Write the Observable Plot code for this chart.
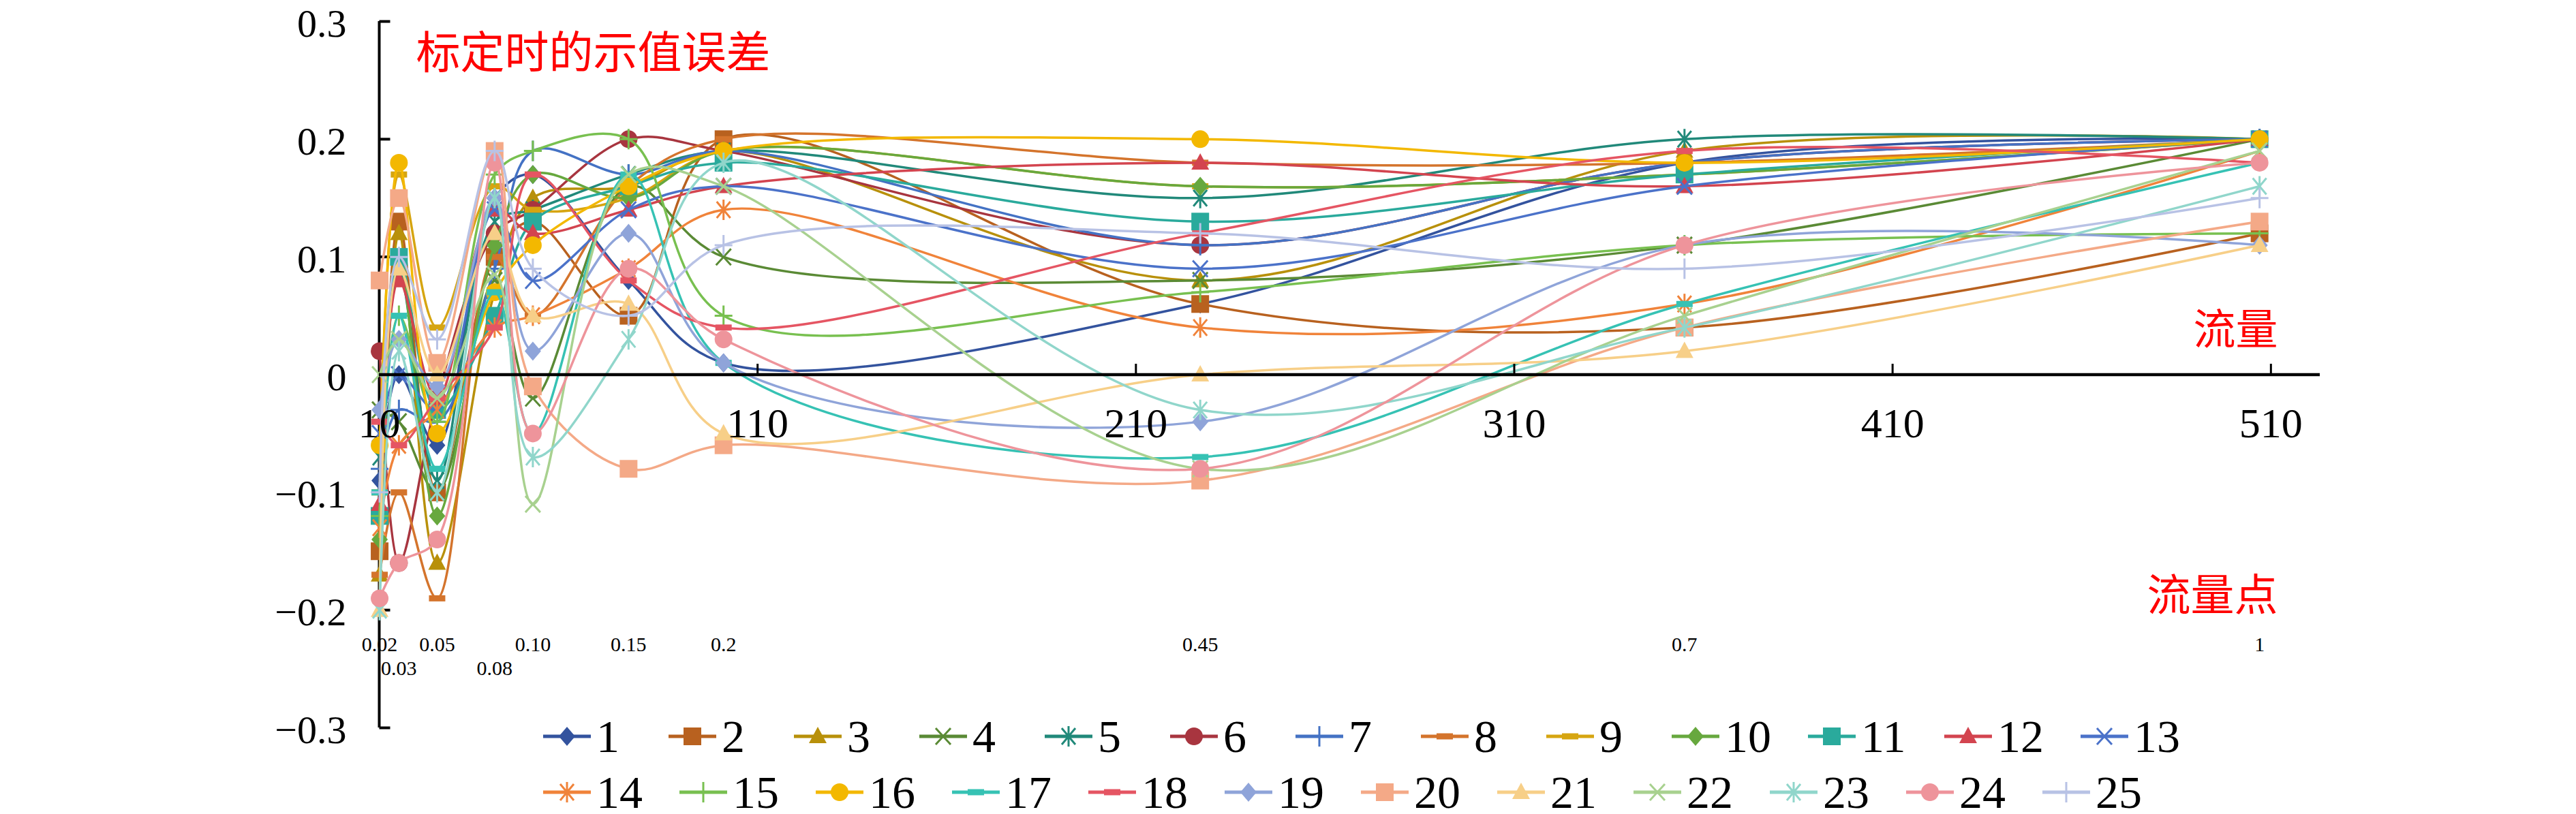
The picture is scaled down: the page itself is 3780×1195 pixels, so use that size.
<!DOCTYPE html>
<html>
<head>
<meta charset="utf-8">
<script src="https://cdn.jsdelivr.net/npm/d3@7"></script>
<script src="https://cdn.jsdelivr.net/npm/@observablehq/plot@0.6"></script>
<style>
  html, body { margin: 0; padding: 0; background: #fff; }
  body { width: 3780px; height: 1195px; overflow: hidden; position: relative; }
  #legend { position: absolute; left: 797px; top: 1040px; font-family: "Liberation Serif", serif; color: #000; }
  .row { display: flex; height: 82px; align-items: center; }
  .item { display: flex; align-items: center; }
  .item svg { margin-right: 8px; }
  .item span { font-size: 68px; line-height: 82px; }
</style>
</head>
<body>
<div id="chart"></div>
<div id="legend"></div>
<script>
// ---- data ----
const flows = [10.1, 15.2, 25.3, 40.5, 50.6, 75.9, 101, 227, 355, 507];
const flowPoints = ["0.02", "0.03", "0.05", "0.08", "0.10", "0.15", "0.2", "0.45", "0.7", "1"];
const lowerRowPoints = ["0.03", "0.08"];
const xTicks = [10, 110, 210, 310, 410, 510];
const yTicks = [-0.3, -0.2, -0.1, 0, 0.1, 0.2, 0.3];

const s1  = [-0.09, 0.00, -0.06, 0.15, 0.17, 0.08, 0.01, 0.06, 0.18, 0.20];
const s2  = [-0.15, 0.13, -0.10, 0.10, 0.13, 0.05, 0.20, 0.06, 0.04, 0.12];
const s3  = [-0.17, 0.12, -0.16, 0.07, 0.15, 0.16, 0.19, 0.08, 0.19, 0.20];
const s4  = [-0.03, -0.04, -0.10, 0.08, -0.02, 0.16, 0.10, 0.08, 0.11, 0.20];
const s5  = [-0.07, 0.09, -0.09, 0.13, 0.14, 0.17, 0.19, 0.15, 0.20, 0.20];
const s6  = [0.02, -0.16, -0.02, 0.12, 0.14, 0.20, 0.19, 0.11, 0.18, 0.20];
const s7  = [-0.08, -0.03, -0.04, 0.09, 0.19, 0.17, 0.19, 0.11, 0.18, 0.20];
const s8  = [-0.17, -0.10, -0.19, 0.10, 0.05, 0.16, 0.20, 0.18, 0.18, 0.20];
const s9  = [-0.10, 0.17, 0.04, 0.16, 0.14, 0.15, 0.19, 0.16, 0.17, 0.20];
const s10 = [-0.14, 0.10, -0.12, 0.11, 0.17, 0.15, 0.19, 0.16, 0.17, 0.20];
const s11 = [-0.12, 0.10, -0.03, 0.05, 0.13, 0.16, 0.18, 0.13, 0.17, 0.20];
const s12 = [-0.11, 0.08, -0.02, 0.14, 0.12, 0.14, 0.16, 0.18, 0.16, 0.20];
const s13 = [-0.05, 0.00, -0.03, 0.14, 0.08, 0.14, 0.16, 0.09, 0.16, 0.20];
const s14 = [-0.13, -0.06, -0.03, 0.04, 0.05, 0.09, 0.14, 0.04, 0.06, 0.19];
const s15 = [-0.12, 0.05, -0.04, 0.17, 0.19, 0.20, 0.05, 0.07, 0.11, 0.12];
const s16 = [-0.06, 0.18, -0.05, 0.07, 0.11, 0.16, 0.19, 0.20, 0.18, 0.20];
const s17 = [-0.10, 0.05, -0.08, 0.07, -0.05, 0.17, 0.01, -0.07, 0.06, 0.18];
const s18 = [-0.04, -0.06, -0.02, 0.04, 0.17, 0.08, 0.04, 0.12, 0.19, 0.18];
const s19 = [-0.03, 0.03, -0.01, 0.15, 0.02, 0.12, 0.01, -0.04, 0.11, 0.11];
const s20 = [0.08, 0.15, 0.01, 0.19, -0.01, -0.08, -0.06, -0.09, 0.04, 0.13];
const s21 = [-0.20, 0.09, 0.00, 0.12, 0.05, 0.06, -0.05, 0.00, 0.02, 0.11];
const s22 = [0.00, 0.03, -0.02, 0.085, -0.11, 0.17, 0.16, -0.08, 0.05, 0.19];
const s23 = [-0.20, 0.02, -0.10, 0.15, -0.07, 0.03, 0.18, -0.03, 0.04, 0.16];
const s24 = [-0.19, -0.16, -0.14, 0.18, -0.05, 0.09, 0.03, -0.08, 0.11, 0.18];
const s25 = [-0.10, 0.10, 0.03, 0.19, 0.09, 0.05, 0.11, 0.12, 0.09, 0.15];

const seriesValues = [s1, s2, s3, s4, s5, s6, s7, s8, s9, s10, s11, s12, s13,
  s14, s15, s16, s17, s18, s19, s20, s21, s22, s23, s24, s25];
const seriesNames = seriesValues.map((_, i) => String(i + 1));

const seriesColors = ["#33539E", "#B8611F", "#B8900A", "#5A8A35", "#21897A", "#A8353F", "#4472C4",
  "#D4742C", "#D6A511", "#67A83E", "#2AAA9C", "#D3444F", "#4B72C9", "#F0833A", "#78C050",
  "#F3B800", "#36C2B4", "#E55563", "#8FA4D9", "#F4A987", "#F7CF88", "#A8D18F", "#90D6CB",
  "#EE949B", "#B8C2E5"];
const seriesMarkers = ["diamond", "square", "triangle", "times", "asterisk", "circle", "plus",
  "dash", "dash", "diamond", "square", "triangle", "times", "asterisk", "plus", "circle",
  "dash", "dash", "diamond", "square", "triangle", "times", "asterisk", "circle", "plus"];

// ---- marker shapes (styling) ----
const symbols = {
  diamond: {fill: true, draw(c) { c.moveTo(0, -14); c.lineTo(12, 0); c.lineTo(0, 14); c.lineTo(-12, 0); c.closePath(); }},
  square: {fill: true, draw(c) { c.rect(-13, -13, 26, 26); }},
  triangle: {fill: true, draw(c) { c.moveTo(0, -14); c.lineTo(13, 10); c.lineTo(-13, 10); c.closePath(); }},
  circle: {fill: true, draw(c) { c.moveTo(13, 0); c.arc(0, 0, 13, 0, 2 * Math.PI); }},
  dash: {fill: true, draw(c) { c.rect(-12, -4.5, 24, 9); }},
  times: {fill: false, draw(c) { c.moveTo(-11, -12); c.lineTo(11, 12); c.moveTo(11, -12); c.lineTo(-11, 12); }},
  asterisk: {fill: false, draw(c) { c.moveTo(-10, -12); c.lineTo(10, 12); c.moveTo(10, -12); c.lineTo(-10, 12); c.moveTo(0, -15); c.lineTo(0, 15); }},
  plus: {fill: false, draw(c) { c.moveTo(-13, 0); c.lineTo(13, 0); c.moveTo(0, -15); c.lineTo(0, 15); }}
};
const tickRight = {draw(c) { c.moveTo(0, 0); c.lineTo(16, 0); }};
const tickUp = {draw(c) { c.moveTo(0, 0); c.lineTo(0, -16); }};
const fmtY = d => d === 0 ? "0" : (d < 0 ? "\u2212" : "") + Math.abs(d).toFixed(1);

// ---- table ----
const rows = seriesValues.map((vals, i) => vals.map((v, j) => ({series: seriesNames[i], x: flows[j], y: v})));
const labelRows = flowPoints.map((t, j) => ({x: flows[j], text: t, lower: lowerRowPoints.includes(t)}));

const seriesMarks = rows.flatMap((data, i) => {
  const sym = symbols[seriesMarkers[i]];
  const col = seriesColors[i];
  return [
    Plot.line(data, {x: "x", y: "y", stroke: col, strokeWidth: 3.5, curve: "catmull-rom"}),
    Plot.dot(data, {x: "x", y: "y", symbol: sym, r: 12,
      fill: sym.fill ? col : "none", stroke: col, strokeWidth: sym.fill ? 0 : 3})
  ];
});

const chart = Plot.plot({
  width: 3780,
  height: 1195,
  marginLeft: 556,
  marginRight: 376,
  marginTop: 31,
  marginBottom: 127,
  style: {fontFamily: "Liberation Serif", background: "#fff", color: "#000"},
  x: {domain: [10, 523], axis: null},
  y: {domain: [-0.3, 0.3]},
  marks: [
    Plot.axisY({ticks: yTicks, tickSize: 0, tickPadding: 48, fontSize: 58, dy: 4, tickFormat: fmtY, label: null}),
    Plot.ruleX([10], {stroke: "#000", strokeWidth: 4}),
    Plot.dot(yTicks, {x: () => 10, y: d => d, symbol: tickRight, fill: "none", stroke: "#000", strokeWidth: 4}),
    ...seriesMarks,
    Plot.ruleY([0], {stroke: "#000", strokeWidth: 4.5}),
    Plot.dot(xTicks.slice(1), {x: d => d, y: () => 0, symbol: tickUp, fill: "none", stroke: "#000", strokeWidth: 3}),
    Plot.text(xTicks, {x: d => d, y: () => 0, dy: 72, text: d => String(d), fontSize: 62, fill: "#000"}),
    Plot.text(labelRows.filter(d => !d.lower), {x: "x", frameAnchor: "bottom", dy: -113, text: "text", fontSize: 30, fill: "#000"}),
    Plot.text(labelRows.filter(d => d.lower), {x: "x", frameAnchor: "bottom", dy: -78, text: "text", fontSize: 30, fill: "#000"}),
    Plot.text(["标定时的示值误差"], {frameAnchor: "top-left", dx: 54, dy: 22, text: d => d, textAnchor: "start",
      fontSize: 65, fill: "#FF0000", fontFamily: "Noto Sans CJK SC"}),
    Plot.text(["流量"], {frameAnchor: "right", dx: -62, dy: -64, text: d => d, textAnchor: "end",
      fontSize: 62, fill: "#FF0000", fontFamily: "Noto Sans CJK SC"}),
    Plot.text(["流量点"], {frameAnchor: "right", dx: -62, dy: 326, text: d => d, textAnchor: "end",
      fontSize: 64, fill: "#FF0000", fontFamily: "Noto Sans CJK SC"})
  ]
});
document.getElementById("chart").appendChild(chart);

// ---- legend ----
const legend = document.getElementById("legend");
const legendRows = [seriesNames.slice(0, 13), seriesNames.slice(13)];
legendRows.forEach(names => {
  const row = document.createElement("div");
  row.className = "row";
  names.forEach(name => {
    const i = seriesNames.indexOf(name);
    const sym = symbols[seriesMarkers[i]];
    const col = seriesColors[i];
    const p = d3.path();
    sym.draw(p);
    const item = document.createElement("div");
    item.className = "item";
    item.style.width = (name.length > 1 ? 200 : 184) + "px";
    item.innerHTML =
      `<svg width="70" height="40" viewBox="-35 -20 70 40">` +
      `<line x1="-35" x2="35" y1="0" y2="0" stroke="${col}" stroke-width="5"/>` +
      `<path d="${p.toString()}" fill="${sym.fill ? col : "none"}" stroke="${col}" stroke-width="${sym.fill ? 0 : 3}"/>` +
      `</svg><span>${name}</span>`;
    row.appendChild(item);
  });
  legend.appendChild(row);
});
</script>
</body>
</html>
